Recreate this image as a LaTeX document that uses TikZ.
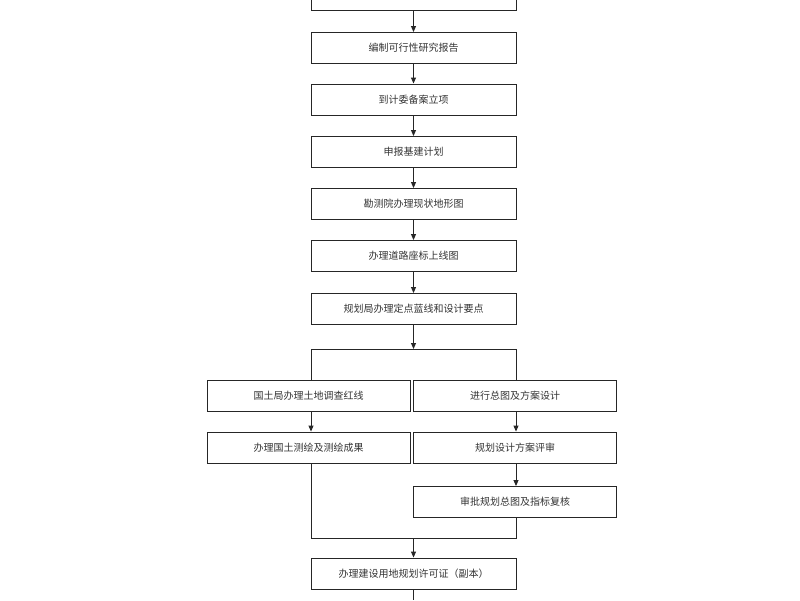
\documentclass[tikz,border=0pt]{standalone}
\usepackage{fontspec}
\newfontfamily\cjk{Noto Sans CJK SC}
\usetikzlibrary{arrows.meta}
\begin{document}
\begin{tikzpicture}[x=1pt,y=-1pt,
  box/.style={draw=black!85,line width=0.9pt,minimum height=31pt,inner sep=0pt,font=\cjk\fontsize{10}{12}\selectfont,text=black!80},
  mb/.style={box,minimum width=205pt},
  sb/.style={box,minimum width=203pt},
  ln/.style={draw=black!85,line width=0.9pt},
  ar/.style={ln,-{Triangle[length=6pt,width=5pt]}}]
\useasboundingbox (0,0) rectangle (800,600);
\node[mb] (b0) at (413.5,-5) {};
\node[mb] (b1) at (413.5,48) {编制可行性研究报告};
\node[mb] (b2) at (413.5,99.5) {到计委备案立项};
\node[mb] (b3) at (413.5,152) {申报基建计划};
\node[mb] (b4) at (413.5,204) {勘测院办理现状地形图};
\node[mb] (b5) at (413.5,256) {办理道路座标上线图};
\node[mb] (b6) at (413.5,309) {规划局办理定点蓝线和设计要点};
\node[sb] (l1) at (308.5,395.5) {国土局办理土地调查红线};
\node[sb] (r1) at (515,395.5) {进行总图及方案设计};
\node[sb] (l2) at (308.5,447.5) {办理国土测绘及测绘成果};
\node[sb] (r2) at (515,447.5) {规划设计方案评审};
\node[sb] (r3) at (515,502) {审批规划总图及指标复核};
\node[mb] (b7) at (413.5,573.5) {办理建设用地规划许可证（副本）};
\coordinate (s) at (413.5,349);
\coordinate (sl) at (311,349);
\coordinate (sr) at (516,349);
\coordinate (m) at (413.5,538);
\coordinate (ml) at (311,538);
\coordinate (mr) at (516,538);
\coordinate (e) at (413.5,600);
\draw[ar] (b0) -- (b1);
\draw[ar] (b1) -- (b2);
\draw[ar] (b2) -- (b3);
\draw[ar] (b3) -- (b4);
\draw[ar] (b4) -- (b5);
\draw[ar] (b5) -- (b6);
\draw[ar] (b6) -- (s);
\draw[ln] (sl) -- (sr);
\draw[ln] (sl) -- (sl|-l1.north);
\draw[ln] (sr) -- (sr|-r1.north);
\draw[ar] (sl|-l1.south) -- (sl|-l2.north);
\draw[ar] (sr|-r1.south) -- (sr|-r2.north);
\draw[ar] (sr|-r2.south) -- (sr|-r3.north);
\draw[ln] (sl|-l2.south) -- (ml) -- (mr) -- (sr|-r3.south);
\draw[ar] (m) -- (b7);
\draw[ln] (b7) -- (e);
\end{tikzpicture}
\end{document}
